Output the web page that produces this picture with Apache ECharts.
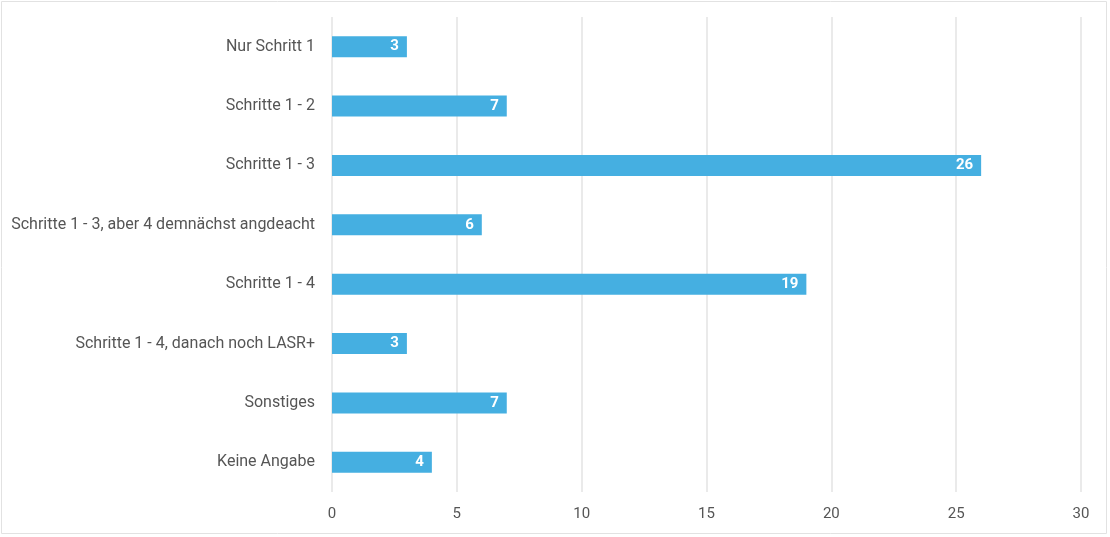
<!DOCTYPE html>
<html><head><meta charset="utf-8">
<script src="https://cdn.jsdelivr.net/npm/echarts@6/dist/echarts.min.js"></script>
<style>html,body{margin:0;padding:0;background:#fff}#c{width:1110px;height:537px}</style>
</head><body><div id="c"></div>
<script>
const categories = ["Nur Schritt 1","Schritte 1 - 2","Schritte 1 - 3","Schritte 1 - 3, aber 4 demnächst angdeacht","Schritte 1 - 4","Schritte 1 - 4, danach noch LASR+","Sonstiges","Keine Angabe"];
const values = [3,7,26,6,19,3,7,4];
const xTicks = [0,5,10,15,20,25,30];
const chart = echarts.init(document.getElementById('c'));
chart.setOption({
  animation:false,
  textStyle:{fontFamily:'Roboto'},
  graphic:[{type:'rect',shape:{x:1.5,y:1.5,width:1105,height:532},style:{fill:'none',stroke:'#e2e2e2',lineWidth:1},silent:true}],
  grid:{left:332,right:29,top:17,bottom:45,containLabel:false},
  xAxis:{type:'value',min:xTicks[0],max:xTicks[xTicks.length-1],interval:5,
    axisLine:{show:false},axisTick:{show:false},
    axisLabel:{color:'#555',fontSize:15,margin:15,fontFamily:'Roboto'},
    splitLine:{lineStyle:{color:'#e3e3e3',width:1.5}}},
  yAxis:{type:'category',data:categories,inverse:true,
    axisLine:{show:false},axisTick:{show:false},
    axisLabel:{color:'#555',fontSize:16,margin:17,fontFamily:'Roboto'}},
  series:[{type:'bar',data:values,barWidth:21,itemStyle:{color:'#45afe1'},
    label:{show:true,position:'insideRight',color:'#fff',fontWeight:'bold',fontSize:15,distance:8,fontFamily:'Roboto'}}]
});
</script></body></html>
